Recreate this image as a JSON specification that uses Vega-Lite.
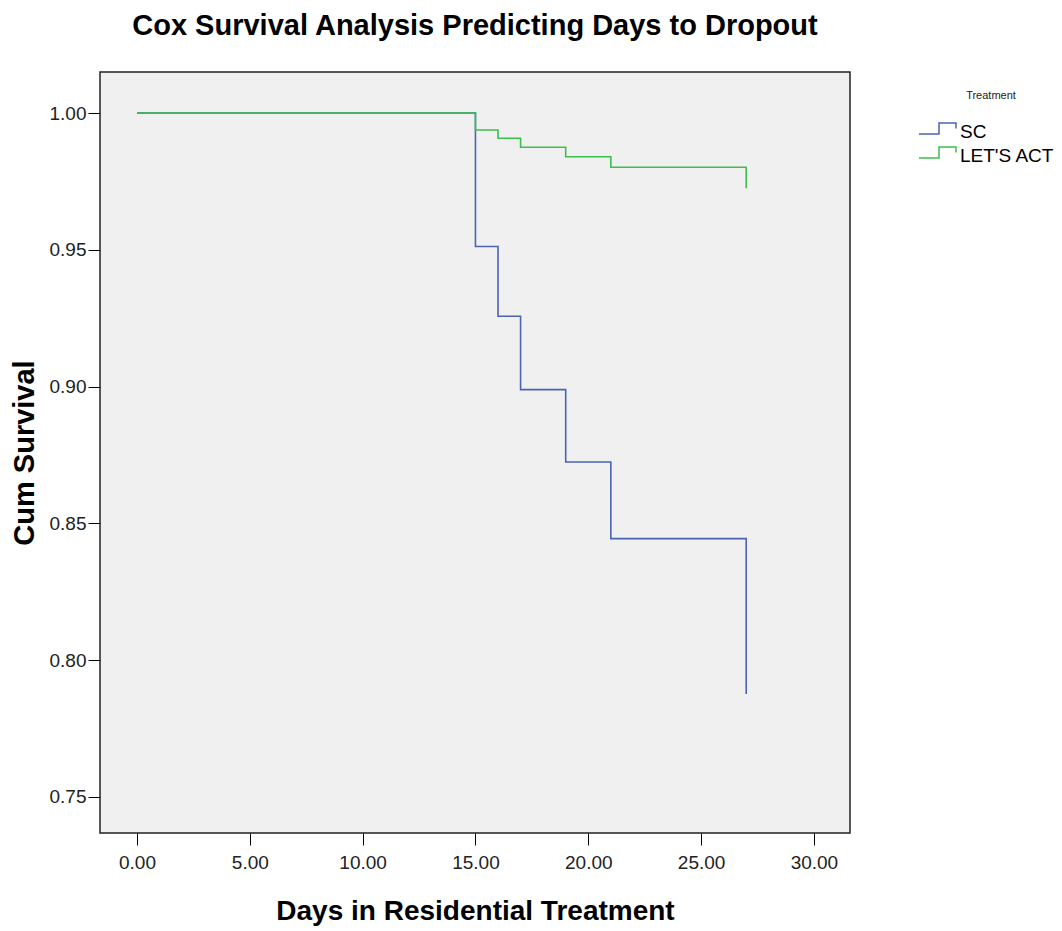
{
  "$schema": "https://vega.github.io/schema/vega-lite/v6.json",
  "width": 750,
  "height": 761,
  "autosize": {"type": "none"},
  "padding": {"left": 100, "top": 72, "right": 212, "bottom": 98},
  "background": "#ffffff",
  "title": {
    "text": "Cox Survival Analysis Predicting Days to Dropout",
    "font": "Liberation Sans",
    "fontSize": 29,
    "fontWeight": "bold",
    "color": "#000000",
    "anchor": "middle",
    "frame": "group",
    "offset": 31
  },
  "config": {
    "view": {"fill": "#F0F0F0", "stroke": "#222222", "strokeWidth": 1.5},
    "axis": {
      "grid": false,
      "domain": false,
      "tickColor": "#000000",
      "tickSize": 12,
      "tickWidth": 1,
      "labelFont": "Liberation Sans",
      "labelFontSize": 19,
      "labelColor": "#222222",
      "titleFont": "Liberation Sans",
      "titleFontSize": 28,
      "titleFontWeight": "bold",
      "titleColor": "#000000"
    }
  },
  "data": {
    "values": [
      {"day": 0, "surv": 1.0, "group": "SC"},
      {"day": 15, "surv": 0.9512, "group": "SC"},
      {"day": 16, "surv": 0.9257, "group": "SC"},
      {"day": 17, "surv": 0.8989, "group": "SC"},
      {"day": 19, "surv": 0.8724, "group": "SC"},
      {"day": 21, "surv": 0.8444, "group": "SC"},
      {"day": 27, "surv": 0.7876, "group": "SC"},
      {"day": 0, "surv": 1.0, "group": "LET'S ACT"},
      {"day": 15, "surv": 0.9938, "group": "LET'S ACT"},
      {"day": 16, "surv": 0.9908, "group": "LET'S ACT"},
      {"day": 17, "surv": 0.9875, "group": "LET'S ACT"},
      {"day": 19, "surv": 0.984, "group": "LET'S ACT"},
      {"day": 21, "surv": 0.9802, "group": "LET'S ACT"},
      {"day": 27, "surv": 0.9725, "group": "LET'S ACT"}
    ]
  },
  "mark": {"type": "line", "interpolate": "step-after", "strokeWidth": 1.6},
  "encoding": {
    "x": {
      "field": "day",
      "type": "quantitative",
      "scale": {"domain": [-1.64, 31.6], "nice": false, "zero": false},
      "axis": {"values": [0, 5, 10, 15, 20, 25, 30], "format": ".2f", "title": "Days in Residential Treatment", "labelPadding": 8, "titlePadding": 25}
    },
    "y": {
      "field": "surv",
      "type": "quantitative",
      "scale": {"domain": [0.7368, 1.015], "nice": false, "zero": false},
      "axis": {"values": [0.75, 0.8, 0.85, 0.9, 0.95, 1.0], "format": ".2f", "title": "Cum Survival", "labelPadding": 2, "titlePadding": 10, "titleFontSize": 29}
    },
    "color": {
      "field": "group",
      "type": "nominal",
      "scale": {"domain": ["SC", "LET'S ACT"], "range": ["#4A63B5", "#3CBF4C"]},
      "legend": {
        "title": "Treatment",
        "orient": "none",
        "legendX": 827,
        "legendY": 18,
        "titleFont": "Liberation Sans",
        "titleFontSize": 11,
        "titleFontWeight": "normal",
        "titleColor": "#222222",
        "titleAnchor": "middle",
        "titlePadding": 20,
        "labelFont": "Liberation Sans",
        "labelFontSize": 19,
        "labelColor": "#000000",
        "labelOffset": 11,
        "symbolType": "M-1.9,0.2L0.1,0.2L0.1,-0.9L1.8,-0.9L1.8,-0.35",
        "symbolSize": 400,
        "symbolStrokeWidth": 1.5,
        "symbolFillColor": "transparent",
        "rowPadding": 2
      }
    }
  }
}
